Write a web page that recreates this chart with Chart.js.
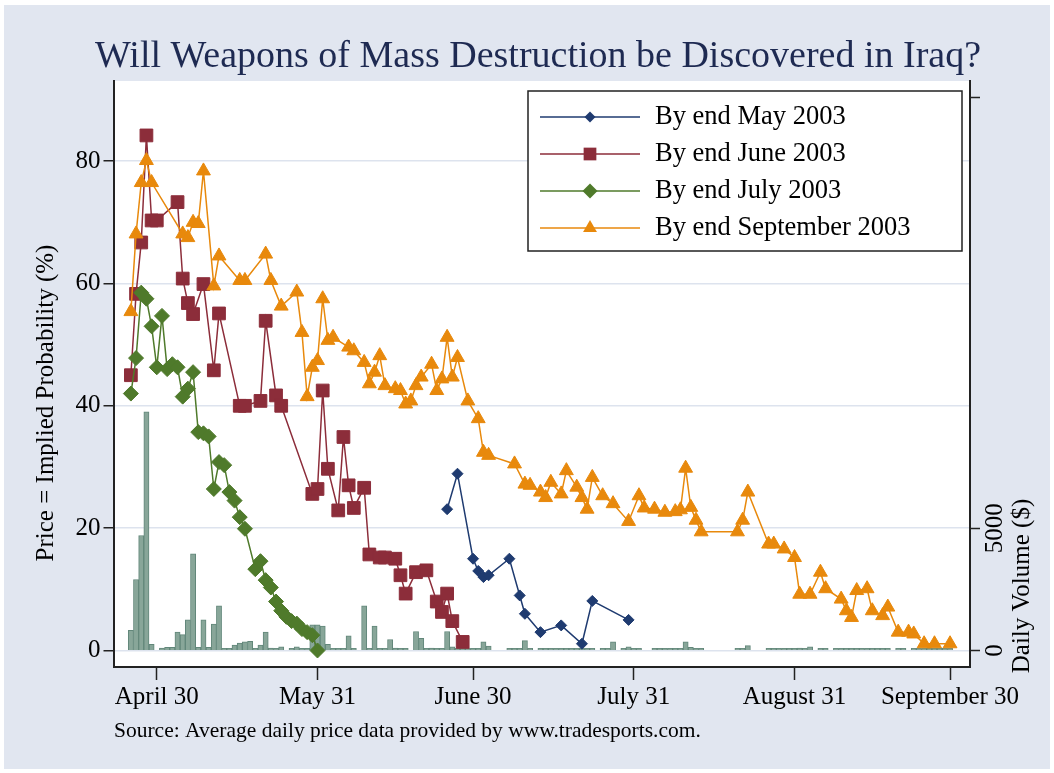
<!DOCTYPE html>
<html>
<head>
<meta charset="utf-8">
<script src="https://cdn.jsdelivr.net/npm/chart.js@4.4.0/dist/chart.umd.min.js"></script>
<style>
  body { margin: 0; background: #fff; }
  #frame { position: absolute; left: 4px; top: 5px; width: 1046px; height: 764px; background: #e1e6f0; }
  #chart { position: absolute; left: 0; top: 0; }
</style>
</head>
<body>
<div id="frame"></div>
<canvas id="chart" width="1054" height="773"></canvas>
<script>
// x values are days counted from April 30, 2003
const tickDays = [0, 31, 61, 92, 123, 153];
const tickLabels = ['April 30', 'May 31', 'June 30', 'July 31', 'August 31', 'September 30'];
const priceTicks = [0, 20, 40, 60, 80];
const volTicks = [0, 5000, 22600];
const volTickLabels = ['0', '5000', ''];

const titleText = 'Will Weapons of Mass Destruction be Discovered in Iraq?';
const yTitle = 'Price = Implied Probability (%)';
const y1Title = 'Daily Volume ($)';
const sourceNote = 'Source: Average daily price data provided by www.tradesports.com.';
const seriesLabels = ['By end May 2003', 'By end June 2003', 'By end July 2003', 'By end September 2003'];

const mayDays = [56, 58, 61, 62, 63, 64, 68, 70, 71, 74, 78, 82, 84, 91];
const mayPrice = [23.1, 28.9, 15, 13, 12, 12.3, 15, 9, 6, 3, 4.1, 1.1, 8.1, 5];

const juneDays = [-5, -4, -3, -2, -1, 0, 4, 5, 6, 7, 9, 11, 12, 16, 17, 20, 21, 23, 24,
  30, 31, 32, 33, 35, 36, 37, 38, 40, 41, 43, 44, 46, 47, 48, 50, 52, 54, 55, 56, 57, 59];
const junePrice = [45, 58.3, 66.7, 84.2, 70.3, 70.3, 73.3, 60.8, 56.8, 55, 59.9, 45.8, 55.1, 40, 40, 40.8, 53.9, 41.7, 40,
  25.6, 26.4, 42.5, 29.7, 22.9, 34.9, 27, 23.3, 26.6, 15.7, 15.2, 15.2, 15, 12.3, 9.3, 12.8, 13.1, 8, 6.3, 9.3, 4.8, 1.4];

const julyDays = [-5, -4, -3, -2, -1, 0, 1, 2, 3, 4, 5, 6, 7, 8, 9, 10, 11, 12, 13, 14, 15, 16, 17,
  19, 20, 21, 22, 23, 24, 25, 26, 27, 28, 29, 30, 31];
const julyPrice = [42, 47.8, 58.5, 57.5, 53, 46.3, 54.7, 46, 46.8, 46.3, 41.5, 42.8, 45.5, 35.7, 35.5, 35, 26.4, 30.8, 30.3, 25.9, 24.5, 21.8, 19.9,
  13.3, 14.6, 11.5, 10.3, 8, 6.5, 5.5, 4.8, 4.4, 3.5, 3, 2.5, 0];

const septDays = [-5, -4, -3, -2, -1, 5, 6, 7, 8, 9, 11, 12, 16, 17, 21, 22, 24, 27, 28, 29, 30, 31, 32, 33, 34,
  37, 38, 40, 41, 42, 43, 44, 46, 47, 48, 49, 50, 51, 53, 54, 55, 56, 57, 58, 60, 62, 63, 64,
  69, 71, 72, 74, 75, 76, 78, 79, 81, 82, 83, 84, 86, 88, 91, 93, 94, 96, 98, 100, 101, 102, 103, 104, 105,
  112, 113, 114, 118, 119, 121, 123, 124, 126, 128, 129, 132, 133, 134, 135, 137, 138, 140, 141,
  143, 145, 146, 148, 150, 153];
const septPrice = [55.4, 68.1, 76.5, 80.1, 76.5, 68.1, 67.5, 70, 69.8, 78.4, 59.6, 64.5, 60.5, 60.5, 64.8, 60.5, 56.3, 58.6, 52, 41.5, 46.3, 47.4, 57.5, 50.7, 51.2,
  49.6, 49, 47.1, 43.6, 45.5, 48.2, 43.3, 42.8, 42.5, 40.3, 40.8, 43.3, 44.7, 46.8, 42.5, 44.4, 51.2, 44.7, 47.9, 40.8, 37.9, 32.4, 31.9,
  30.5, 27.2, 27, 25.9, 25, 27.5, 25.6, 29.4, 26.7, 25, 23.1, 28.3, 25.3, 24, 21.1, 25.3, 23.3, 23.1, 22.6, 22.7, 23, 29.8, 23.4, 21.3, 19.4,
  19.4, 21.3, 25.9, 17.4, 17.4, 16.6, 15.2, 9.2, 9.2, 12.8, 10.1, 8.4, 6.5, 5.4, 9.8, 10.1, 6.5, 5.7, 7.1,
  3, 3, 2.7, 1.1, 1.1, 1.1];

const volDays = [-5, -4, -3, -2, -1, 1, 2, 3, 4, 5, 6, 7, 8, 9, 10, 11, 12, 13, 14, 15, 16, 17, 18, 19, 20,
  21, 22, 23, 24, 26, 27, 28, 29, 30, 31, 32, 33, 34, 35, 36, 37, 38, 40, 41, 42, 43, 44, 45, 46, 47, 48,
  50, 51, 52, 53, 54, 55, 56, 57, 58, 59, 60, 61, 62, 63, 64, 68, 69, 70, 71, 72, 74, 75, 76, 77, 78, 79,
  80, 81, 82, 83, 84, 86, 87, 88, 90, 91, 92, 93, 96, 97, 98, 99, 100, 101, 102, 103, 104, 105,
  112, 113, 114, 118, 119, 120, 121, 122, 123, 124, 125, 126, 128, 129, 131, 132, 133, 134, 135, 136,
  137, 138, 139, 140, 141, 143, 144, 146, 147, 148, 149, 150, 151, 152, 153];
const volAmount = [825, 2900, 4700, 9750, 250, 100, 125, 125, 750, 650, 1250, 3950, 125, 1250, 125, 1075, 1825, 90, 90, 225, 300, 350, 375, 90, 225,
  750, 100, 90, 150, 90, 150, 90, 90, 1050, 1050, 1000, 250, 90, 90, 90, 600, 90, 1825, 90, 1000, 90, 90, 450, 100, 90, 90,
  775, 500, 90, 100, 90, 90, 775, 150, 90, 90, 90, 90, 90, 350, 175, 90, 90, 90, 400, 90, 90, 90, 90, 90, 90, 90,
  90, 90, 90, 90, 90, 90, 90, 350, 90, 150, 90, 90, 90, 90, 90, 90, 90, 90, 350, 125, 90, 90,
  90, 90, 200, 90, 90, 90, 90, 90, 90, 100, 90, 150, 90, 90, 90, 90, 90, 90, 90, 90,
  90, 90, 90, 90, 90, 90, 90, 90, 90, 90, 90, 90, 90, 90, 90];

const serif = '"Liberation Serif", "DejaVu Serif", serif';
Chart.defaults.font.family = serif;
Chart.defaults.color = '#000';

const toPoints = (xs, ys) => xs.map((x, i) => ({ x: x, y: ys[i] }));

function lineSet(label, xs, ys, color, style, radius, order) {
  return {
    type: 'line', label: label, data: toPoints(xs, ys), yAxisID: 'y',
    borderColor: color, backgroundColor: color, borderWidth: 1.5,
    pointStyle: style, pointRadius: radius, pointBackgroundColor: color,
    pointBorderColor: color, pointBorderWidth: 1, tension: 0, order: order
  };
}

function drawMarker(ctx, style, r, x, y) {
  ctx.beginPath();
  if (style === 'rect') {
    const s = r * Math.SQRT1_2;
    ctx.rect(x - s, y - s, 2 * s, 2 * s);
  } else if (style === 'rectRot') {
    ctx.moveTo(x, y - r); ctx.lineTo(x + r, y); ctx.lineTo(x, y + r); ctx.lineTo(x - r, y);
  } else {
    const h = r * 1.5, half = r * Math.sin(Math.PI / 3);
    ctx.moveTo(x, y - r); ctx.lineTo(x + half, y + h - r); ctx.lineTo(x - half, y + h - r);
  }
  ctx.closePath();
  ctx.fill();
}

// white plot region, axis titles, note and the boxed legend
const decorations = {
  id: 'decorations',
  beforeDraw(chart) {
    const a = chart.chartArea, ctx = chart.ctx;
    ctx.save();
    ctx.fillStyle = '#fff';
    ctx.fillRect(a.left, a.top, a.right - a.left, a.bottom - a.top);
    ctx.restore();
  },
  afterDatasetsDraw(chart) {
    const ctx = chart.ctx;
    ctx.save();
    ctx.fillStyle = '#fff';
    ctx.fillRect(528, 91, 434, 160);
    ctx.strokeStyle = '#222';
    ctx.lineWidth = 1.5;
    ctx.strokeRect(528, 91, 434, 160);
    ctx.font = '26.5px ' + serif;
    ctx.textBaseline = 'middle';
    chart.data.datasets.filter(d => d.type === 'line').forEach((ds, i) => {
      const y = 117 + i * 37;
      ctx.strokeStyle = ds.borderColor;
      ctx.lineWidth = ds.borderWidth;
      ctx.beginPath(); ctx.moveTo(540, y); ctx.lineTo(640, y); ctx.stroke();
      ctx.fillStyle = ds.borderColor;
      drawMarker(ctx, ds.pointStyle, ds.pointRadius, 590, y);
      ctx.fillStyle = '#000';
      ctx.fillText(ds.label, 655, y);
    });
    ctx.restore();
  },
  afterDraw(chart) {
    const ctx = chart.ctx;
    ctx.save();
    ctx.fillStyle = '#000';
    ctx.font = '25px ' + serif;
    ctx.textAlign = 'center';
    ctx.textBaseline = 'middle';
    ctx.save(); ctx.translate(46, 403); ctx.rotate(-Math.PI / 2); ctx.fillText(yTitle, 0, 0); ctx.restore();
    ctx.save(); ctx.translate(1022, 586); ctx.rotate(-Math.PI / 2); ctx.fillText(y1Title, 0, 0); ctx.restore();
    ctx.font = '21.5px ' + serif;
    ctx.textAlign = 'left';
    ctx.textBaseline = 'alphabetic';
    ctx.fillText(sourceNote, 114, 737);
    ctx.restore();
  }
};

new Chart(document.getElementById('chart'), {
  type: 'line',
  data: {
    datasets: [
      lineSet(seriesLabels[0], mayDays, mayPrice, '#1f3b70', 'rectRot', 5.5, 4),
      lineSet(seriesLabels[1], juneDays, junePrice, '#8c2d3a', 'rect', 9, 3),
      lineSet(seriesLabels[2], julyDays, julyPrice, '#4f7a2b', 'rectRot', 7.5, 2),
      lineSet(seriesLabels[3], septDays, septPrice, '#e8890c', 'triangle', 8, 1),
      {
        type: 'bar', label: y1Title, data: toPoints(volDays, volAmount), yAxisID: 'y1',
        backgroundColor: '#88a699', borderColor: '#62877a', borderWidth: 1,
        barPercentage: 1, categoryPercentage: 1, order: 5
      }
    ]
  },
  options: {
    responsive: false,
    animation: false,
    devicePixelRatio: 1,
    layout: { padding: { left: 22, right: 0, top: 0, bottom: 0 } },
    plugins: {
      legend: { display: false },
      tooltip: { enabled: false },
      title: {
        display: true, text: titleText, color: '#1e2a52',
        font: { size: 38, weight: 'normal', family: serif },
        padding: { top: 34, bottom: 1.4 }
      }
    },
    scales: {
      x: {
        type: 'linear', min: -8.35, max: 156.85, offset: false,
        afterBuildTicks: s => { s.ticks = tickDays.map(v => ({ value: v })); },
        afterFit: s => { s.height = 106; },
        grid: { offset: false, drawOnChartArea: false, tickLength: 13, tickColor: '#222', tickWidth: 1.5 },
        border: { color: '#222', width: 2 },
        ticks: {
          autoSkip: false, maxRotation: 0, color: '#000', font: { size: 25 }, padding: 2,
          callback: v => tickLabels[tickDays.indexOf(v)]
        }
      },
      y: {
        type: 'linear', position: 'left', min: -2.7, max: 93.1,
        afterBuildTicks: s => { s.ticks = priceTicks.map(v => ({ value: v })); },
        afterFit: s => { s.width = 91.5; },
        grid: { color: '#dde3ee', lineWidth: 1.5, tickColor: '#222', tickLength: 10, tickWidth: 1.5 },
        border: { color: '#222', width: 2 },
        ticks: { color: '#000', font: { size: 25 }, padding: 3 }
      },
      y1: {
        type: 'linear', position: 'right', min: -675, max: 23275,
        afterBuildTicks: s => { s.ticks = volTicks.map(v => ({ value: v })); },
        afterFit: s => { s.width = 84; },
        grid: { drawOnChartArea: false, tickColor: '#222', tickLength: 10, tickWidth: 1.5 },
        border: { color: '#222', width: 2 },
        ticks: {
          color: '#000', font: { size: 25 }, minRotation: 90, maxRotation: 90,
          crossAlign: 'center', padding: -10,
          callback: v => volTickLabels[volTicks.indexOf(v)]
        }
      }
    }
  },
  plugins: [decorations]
});
</script>
</body>
</html>
